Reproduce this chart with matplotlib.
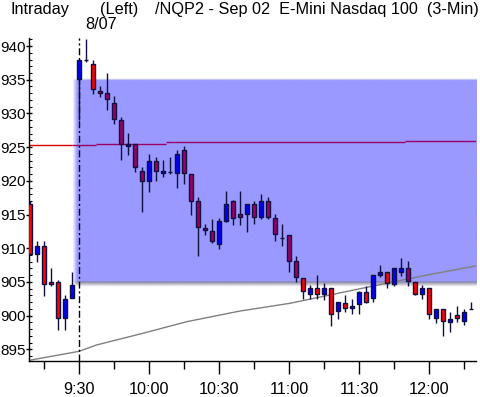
import numpy as np
import matplotlib
matplotlib.use("Agg")
import matplotlib.pyplot as plt
from matplotlib.ticker import FixedLocator, MultipleLocator

plt.rcParams['font.family'] = ['Liberation Sans', 'DejaVu Sans']

# 3-min bars, position = bars after 9:30 (negatives are the previous session)
bar_pos = np.arange(-7, 57)
opens = [916.5, 909.1, 910.4, 905.0, 905.0, 899.6, 902.6,
         935.1, 938.0, 937.4, 933.4, 933.0, 931.5, 929.0, 925.15, 925.4, 921.4,
         920.0, 923.0, 921.1, 921.35, 921.1, 924.5, 921.0, 917.0, 913.0, 912.5,
         910.6, 914.1, 917.0, 915.1, 915.1, 916.55, 914.6, 917.0, 914.45, 911.45,
         912.0, 908.15, 905.55, 903.15, 904.05, 903.15, 904.05, 900.7, 901.9, 901.1,
         901.7, 903.45, 902.55, 906.1, 906.4, 904.65, 906.5, 907.0, 904.95, 903.15,
         904.05, 899.6, 900.95, 899.1, 900.05, 899.2, 901.0]
highs = [917.05, 911.1, 911.1, 907.0, 905.3, 903.05, 906.5,
         938.0, 941.0, 938.0, 934.05, 935.95, 932.6, 929.4, 927.05, 925.4, 922.1,
         924.0, 923.6, 923.1, 923.6, 924.6, 925.1, 921.0, 917.55, 913.6, 914.4,
         914.5, 918.5, 917.1, 918.5, 916.6, 917.0, 918.0, 917.65, 915.1, 913.55,
         912.0, 908.8, 905.6, 904.55, 906.0, 904.9, 904.1, 902.0, 903.0, 902.5,
         903.7, 904.4, 906.0, 907.5, 906.4, 907.0, 908.5, 908.1, 904.95, 904.6,
         904.05, 900.95, 900.95, 900.6, 901.4, 901.0, 902.0]
lows = [909.0, 908.0, 902.95, 904.4, 897.9, 897.9, 902.55,
        929.0, 937.6, 932.9, 932.5, 930.5, 928.5, 923.1, 923.9, 921.35, 915.4,
        918.3, 919.9, 920.5, 921.0, 919.0, 919.5, 914.9, 908.9, 911.95, 910.8,
        909.9, 913.85, 913.45, 913.45, 912.45, 913.55, 914.4, 914.3, 911.05, 910.4,
        906.4, 904.95, 902.5, 902.4, 902.4, 902.3, 898.5, 899.45, 900.6, 900.3,
        900.2, 901.8, 902.0, 905.7, 904.05, 904.45, 905.9, 904.45, 903.05, 902.4,
        899.45, 898.95, 896.95, 897.5, 899.05, 898.6, 901.0]
closes = [909.1, 910.4, 904.7, 904.7, 899.6, 902.4, 904.5,
          938.0, 938.0, 933.6, 933.1, 932.1, 929.1, 925.5, 925.4, 922.1, 920.0,
          923.0, 921.5, 921.45, 921.35, 924.0, 921.1, 917.05, 913.1, 912.65, 911.1,
          914.05, 916.55, 914.5, 914.6, 916.55, 914.6, 917.0, 914.6, 912.05, 911.45,
          908.15, 905.7, 903.65, 904.05, 903.15, 904.05, 900.3, 902.0, 901.1, 901.5,
          903.45, 902.05, 906.0, 906.45, 904.8, 907.0, 907.0, 905.15, 903.15, 904.05,
          900.2, 900.95, 899.2, 899.45, 899.6, 900.5, 901.0]

# shaded range
band_start = -1.0
band_lo = 905.0
band_hi = 935.2

# step line near 925
step_x = [-7.2, 2.5, 12.5, 46.5, 56.7]
step_y = [925.27, 925.42, 925.71, 925.86]

# slow rising grey line
avg_x = [-7.1, 0, 2.5, 9.1, 15.4, 23, 30.1, 42, 49.7, 56.6]
avg_y = [893.37, 894.70, 895.64, 897.37, 899.10, 900.68, 901.82, 904.39, 906.02, 907.36]

tick_times = ['9:30', '10:00', '10:30', '11:00', '11:30', '12:00']


def to_bar(t):
    h, m = map(int, t.split(':'))
    return ((h * 60 + m) - (9 * 60 + 30)) / 3


xlim = (-7.14, 56.71)
ylim = (893.34, 941.19)
fs = 11.7

fig = plt.figure(figsize=(4.8, 3.97), dpi=100)
ax = fig.add_axes([29 / 480, 36.5 / 397, 447 / 480, 322.5 / 397])

# band with soft edges and a grey shadow underneath
shadow = 0.75
ny, nx = 300, 400
yy = np.linspace(band_hi, band_lo - shadow, ny)[:, None]
xx = np.linspace(band_start, xlim[1], nx)[None, :]
base = np.array([153, 153, 255]) / 255
shade = np.array([128, 128, 160]) / 255
wx = np.clip((xx - band_start) / 0.7, 0, 1)
wtop = np.clip((band_hi - yy) / 0.3, 0, 1)
col_in = 1 - (wx * wtop)[..., None] * (1 - base)
t = np.clip((yy - (band_lo - shadow)) / shadow, 0, 1)
col_sh = 1 - (t * wx)[..., None] * (1 - shade)
img = np.where((yy >= band_lo)[..., None], col_in, col_sh)
ax.imshow(img, extent=[band_start, xlim[1], band_lo - shadow, band_hi],
          aspect='auto', interpolation='bilinear', zorder=0)

# step line: red left of band, purple inside
for i in range(len(step_y)):
    a, b = step_x[i], step_x[i + 1]
    if a < band_start:
        ax.hlines(step_y[i], a, min(b, band_start), color='#DD0000', lw=1, zorder=1)
    if b > band_start:
        ax.hlines(step_y[i], max(a, band_start), b, color='#990066', lw=1, zorder=1)

ax.plot(avg_x, avg_y, color='#808080', lw=1, zorder=1.5)

ax.axvline(0, color='black', lw=1, linestyle=(0, (5, 2, 1.5, 2)), zorder=2)

o = np.array(opens)
c = np.array(closes)
colors = []
for x, op, cl in zip(bar_pos, o, c):
    if cl > op:
        colors.append('#0000FF')
    elif x >= band_start and min(op, cl) >= band_lo and max(op, cl) <= band_hi:
        colors.append('#990066')
    else:
        colors.append('#FF0000')

ax.vlines(bar_pos, lows, highs, color='#101040', lw=1, zorder=3)
ax.bar(bar_pos, c - o, bottom=o, width=0.7, color=colors,
       edgecolor='#101040', linewidth=1, zorder=4)

ax.set_xlim(*xlim)
ax.set_ylim(*ylim)

for s in ['top', 'right']:
    ax.spines[s].set_visible(False)
ax.spines['left'].set_linewidth(1)
ax.spines['bottom'].set_linewidth(1)

ax.xaxis.set_major_locator(FixedLocator([to_bar(t) for t in tick_times]))
ax.set_xticklabels(tick_times)
ax.xaxis.set_minor_locator(MultipleLocator(5))
ax.tick_params(axis='x', which='major', direction='out', length=9.5, width=1,
               labelsize=fs, pad=6)
ax.tick_params(axis='x', which='minor', direction='out', length=6, width=1)

ax.yaxis.set_major_locator(MultipleLocator(5))
ax.yaxis.set_minor_locator(MultipleLocator(1))
ax.tick_params(axis='y', which='major', direction='inout', length=5, width=1,
               labelsize=11, pad=0)
ax.tick_params(axis='y', which='minor', direction='in', length=2.5, width=0.8)

fig.text(10 / 480, 1 - 2 / 397, 'Intraday', fontsize=fs, va='top')
fig.text(100 / 480, 1 - 2 / 397, '(Left)', fontsize=fs, va='top')
fig.text(155 / 480, 1 - 2 / 397, '/NQP2 - Sep 02  E-Mini Nasdaq 100  (3-Min)',
         fontsize=fs, va='top')
fig.text(85 / 480, 1 - 17 / 397, '8/07', fontsize=fs, va='top')

fig.savefig('out.png', dpi=100, facecolor='white')
